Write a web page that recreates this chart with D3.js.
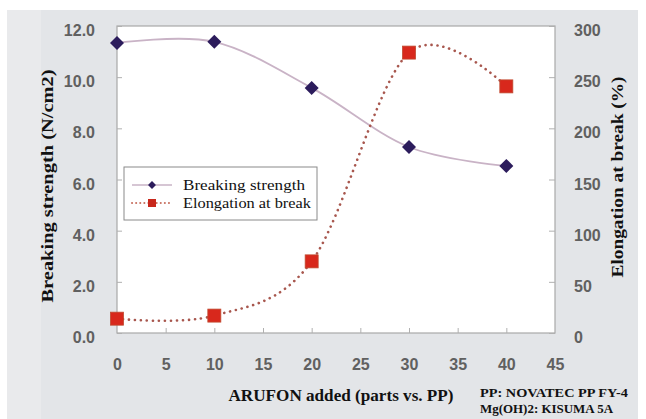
<!DOCTYPE html>
<html><head><meta charset="utf-8">
<script src="https://cdn.jsdelivr.net/npm/d3@7"></script>
<style>body{margin:0;background:#fff}svg{display:block}</style>
</head><body>
<script>
const xValues = [0, 10, 20, 30, 40];
const strength = [11.34, 11.38, 9.58, 7.27, 6.53];
const elongation = [14, 17, 70, 274, 241];
const xTicks = [0, 5, 10, 15, 20, 25, 30, 35, 40, 45];
const leftTicks = [0, 2, 4, 6, 8, 10, 12];
const rightTicks = [0, 50, 100, 150, 200, 250, 300];
const seriesNames = ["Breaking strength", "Elongation at break"];
const xTitle = "ARUFON added (parts vs. PP)";
const leftTitle = "Breaking strength (N/cm2)";
const rightTitle = "Elongation at break (%)";
const notes = ["PP: NOVATEC PP FY-4", "Mg(OH)2: KISUMA 5A"];

const W = 646, H = 419;
const svg = d3.select("body").append("svg").attr("width", W).attr("height", H);

// backgrounds
svg.append("rect").attr("x", 7).attr("y", 10).attr("width", 631).attr("height", 409).attr("fill", "#e3e5e8");
svg.append("rect").attr("x", 7).attr("y", 10).attr("width", 34).attr("height", 409).attr("fill", "#e9eaec");

const m = {l: 117, r: 555, t: 26, b: 333};
const x = d3.scaleLinear().domain([0, 45]).range([m.l, m.r]);
const yL = d3.scaleLinear().domain([0, 12]).range([m.b, m.t]);
const yR = d3.scaleLinear().domain([0, 300]).range([m.b, m.t]);

svg.append("rect").attr("x", m.l).attr("y", m.t).attr("width", m.r - m.l).attr("height", m.b - m.t)
  .attr("fill", "#fff").attr("stroke", "#a8a8a8").attr("stroke-width", 1.2);

const tickFont = "'Liberation Sans', Arial, sans-serif";
const gL = svg.append("g").attr("transform", `translate(${m.l},0)`)
  .call(d3.axisLeft(yL).tickValues(leftTicks).tickFormat(d3.format(".1f")).tickSizeInner(-5).tickSizeOuter(0).tickPadding(22));
const gR = svg.append("g").attr("transform", `translate(${m.r},0)`)
  .call(d3.axisRight(yR).tickValues(rightTicks).tickSizeInner(-6).tickSizeOuter(0).tickPadding(19));
const gB = svg.append("g").attr("transform", `translate(0,${m.b})`)
  .call(d3.axisBottom(x).tickValues(xTicks).tickSizeInner(-5).tickSizeOuter(0).tickPadding(26));
[gL, gR, gB].forEach(g => {
  g.select(".domain").remove();
  g.selectAll(".tick line").attr("stroke", "#b0b0b0").attr("stroke-width", 1);
  g.selectAll(".tick text").attr("fill", "#606060").attr("font-family", tickFont)
    .attr("font-size", 16).attr("font-weight", "bold");
});
gL.selectAll(".tick text").attr("dy", "0.72em").attr("y", -2);
gR.selectAll(".tick text").attr("dy", "0.72em").attr("y", -2);
gB.selectAll(".tick line").filter(d => d === 0 || d === 45).remove();

// lines
const ptsS = xValues.map((v, i) => [x(v), yL(strength[i])]);
const ptsE = xValues.map((v, i) => [x(v), yR(elongation[i])]);
const curve = d3.line().curve(d3.curveCardinal.tension(0));
svg.append("path").attr("d", curve(ptsS)).attr("fill", "none").attr("stroke", "#c9b3c6").attr("stroke-width", 1.8);
svg.append("path").attr("d", curve(ptsE)).attr("fill", "none").attr("stroke", "#a8574e")
  .attr("stroke-width", 2.6).attr("stroke-dasharray", "0.1,5.9").attr("stroke-linecap", "round");

const diamond = d3.symbol().type(d3.symbolDiamond2).size(125);
svg.selectAll(".ds").data(ptsS).join("path").attr("class", "ds")
  .attr("transform", d => `translate(${d[0]},${d[1]})`).attr("d", diamond()).attr("fill", "#2c1c5c");
svg.selectAll(".es").data(ptsE).join("rect").attr("class", "es")
  .attr("x", d => d[0] - 6.5).attr("y", d => d[1] - 6.5).attr("width", 13).attr("height", 13)
  .attr("fill", "#d8281c").attr("stroke", "#c04a30").attr("stroke-width", 0.8);

// legend
const lg = svg.append("g");
lg.append("rect").attr("x", 124).attr("y", 167).attr("width", 193).attr("height", 53)
  .attr("fill", "#fff").attr("stroke", "#8a8a8a").attr("stroke-width", 1);
const ly = [185, 203];
lg.append("line").attr("x1", 132).attr("x2", 172).attr("y1", ly[0]).attr("y2", ly[0]).attr("stroke", "#c9b3c6").attr("stroke-width", 1.5);
lg.append("path").attr("transform", `translate(152,${ly[0]})`).attr("d", d3.symbol().type(d3.symbolDiamond2).size(40)()).attr("fill", "#2c1c5c");
lg.append("line").attr("x1", 132).attr("x2", 172).attr("y1", ly[1]).attr("y2", ly[1]).attr("stroke", "#c87060")
  .attr("stroke-width", 2).attr("stroke-dasharray", "0.1,4").attr("stroke-linecap", "round");
lg.append("rect").attr("x", 148).attr("y", ly[1] - 4).attr("width", 8).attr("height", 8).attr("fill", "#c8281c");
lg.selectAll("text").data(seriesNames).join("text")
  .attr("x", 183).attr("y", (d, i) => ly[i] + 5).text(d => d)
  .attr("font-family", "'Liberation Serif', 'Times New Roman', serif").attr("font-size", 15).attr("fill", "#111")
  .attr("textLength", (d, i) => i === 0 ? 122 : 128).attr("lengthAdjust", "spacingAndGlyphs");

// titles
const titleFont = "'Liberation Serif', 'Times New Roman', serif";
svg.append("text").attr("x", 341).attr("y", 401).attr("text-anchor", "middle").text(xTitle)
  .attr("font-family", titleFont).attr("font-weight", "bold").attr("font-size", 17).attr("fill", "#111")
  .attr("textLength", 225).attr("lengthAdjust", "spacingAndGlyphs");
svg.append("text").attr("transform", "translate(53,186) rotate(-90)").attr("text-anchor", "middle").text(leftTitle)
  .attr("font-family", titleFont).attr("font-weight", "bold").attr("font-size", 17).attr("fill", "#111")
  .attr("textLength", 233).attr("lengthAdjust", "spacingAndGlyphs");
svg.append("text").attr("transform", "translate(623,177) rotate(-90)").attr("text-anchor", "middle").text(rightTitle)
  .attr("font-family", titleFont).attr("font-weight", "bold").attr("font-size", 17).attr("fill", "#111")
  .attr("textLength", 201).attr("lengthAdjust", "spacingAndGlyphs");
svg.selectAll(".note").data(notes).join("text").attr("class", "note")
  .attr("x", 480).attr("y", (d, i) => 397 + i * 16).text(d => d)
  .attr("font-family", titleFont).attr("font-weight", "bold").attr("font-size", 13.5).attr("fill", "#111")
  .attr("textLength", (d, i) => i === 0 ? 148 : 133).attr("lengthAdjust", "spacingAndGlyphs");
</script>
</body></html>
